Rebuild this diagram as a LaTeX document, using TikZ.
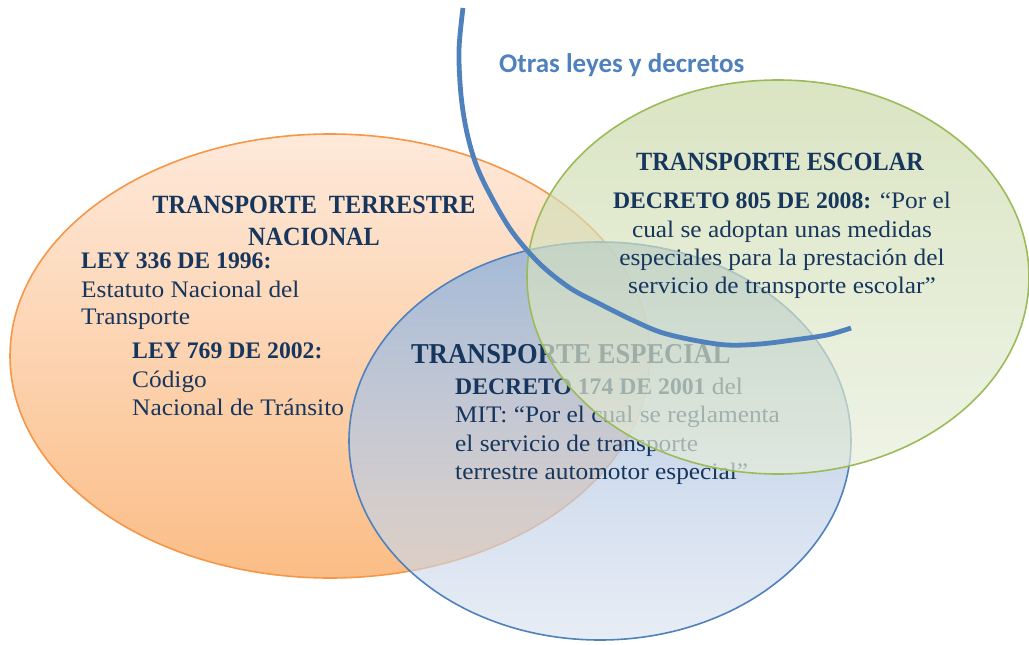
\documentclass[tikz,border=0pt]{standalone}
\usepackage{fontspec}
\usetikzlibrary{fadings}
\setmainfont{Liberation Serif}[UprightFeatures={FakeStretch=1.07}]
\newfontfamily\headfont{Liberation Serif}[FakeStretch=0.92]
\newfontfamily\labelfont{Carlito}
\definecolor{navy}{HTML}{17365D}
\definecolor{oline}{HTML}{F79646}
\definecolor{otop}{HTML}{FEE9DA}
\definecolor{obot}{HTML}{FBBD86}
\definecolor{bline}{HTML}{4F81BD}
\definecolor{btop}{HTML}{98B4D9}
\definecolor{bbot}{HTML}{D6E0EE}
\definecolor{gline}{HTML}{9BBB59}
\definecolor{gtop}{HTML}{C9D8A6}
\definecolor{gbot}{HTML}{E7EEDB}
\definecolor{arcblue}{HTML}{4F81BD}
\tikzfading[name=bluefade, top color=transparent!12, bottom color=transparent!42]
\begin{document}
\begin{tikzpicture}[x=1pt,y=-1pt,
  txt/.style={anchor=base west, inner sep=0pt, text=navy, font=\fontsize{23.7}{28}\selectfont},
  ctxt/.style={anchor=base, inner sep=0pt, text=navy, font=\fontsize{23.7}{28}\selectfont},
  head/.style={anchor=base, inner sep=0pt, text=navy, font=\headfont\fontsize{26.3}{30}\selectfont\bfseries},
  arcline/.style={draw=arcblue, line width=4.8pt}]
\useasboundingbox (0,0) rectangle (1029,645);
% orange ellipse
\shade[top color=otop, bottom color=obot] (330,356) ellipse [x radius=320pt, y radius=222pt];
\draw[draw=oline, line width=1.6pt] (330,356) ellipse [x radius=320pt, y radius=222pt];
\node[head] (tt1) at (314,213) {TRANSPORTE\ \ TERRESTRE};
\node[head] (tt2) at (314,245) {NACIONAL};
\node[txt] (l1) at (81,268) {\textbf{LEY 336 DE 1996:}};
\node[txt] (l2) at (81,297) {Estatuto Nacional del};
\node[txt] (l3) at (81,324) {Transporte};
\node[txt] (l4) at (132,358) {\textbf{LEY 769 DE 2002:}};
\node[txt] (l5) at (132,387) {Código};
\node[txt] (l6) at (132,415) {Nacional de Tránsito};
% blue ellipse
\shade[top color=btop, bottom color=bbot, path fading=bluefade] (600,441) ellipse [x radius=251pt, y radius=199pt];
\draw[draw=bline, line width=1.6pt] (600,441) ellipse [x radius=251pt, y radius=199pt];
\node[head, anchor=base west, font=\headfont\fontsize{28.8}{30}\selectfont\bfseries] (te) at (411,363) {TRANSPORTE ESPECIAL};
\node[txt] (e1) at (455,394) {\textbf{DECRETO 174 DE 2001} del};
\node[txt] (e2) at (455,422) {MIT: “Por el cual se reglamenta};
\node[txt] (e3) at (455,451) {el servicio de transporte};
\node[txt] (e4) at (455,479) {terrestre automotor especial”};
% green ellipse
\shade[top color=gtop, bottom color=gbot, fill opacity=0.68] (778,277) ellipse [x radius=251pt, y radius=197pt];
\draw[draw=gline, line width=1.6pt] (778,277) ellipse [x radius=251pt, y radius=197pt];
\node[head] (ts) at (780,170) {TRANSPORTE ESCOLAR};
\node[ctxt] (s1) at (782,208) {\textbf{DECRETO 805 DE 2008:} “Por el};
\node[ctxt] (s2) at (782,237) {cual se adoptan unas medidas};
\node[ctxt] (s3) at (782,265) {especiales para la prestación del};
\node[ctxt] (s4) at (782,293) {servicio de transporte escolar”};
% arc
\draw[arcline] plot[smooth, tension=0.55] coordinates {(463,8) (459,50) (461,95) (467,133) (477,167) (493,200) (513,233) (540,264) (570,288) (600,304) (630,319) (660,332) (693,340) (727,345) (760,344) (793,340) (827,335) (851,328)};
\node[anchor=base west, inner sep=0pt, text=arcblue, font=\labelfont\fontsize{27}{30}\selectfont\bfseries] (ol) at (499,72) {Otras leyes y decretos};
\end{tikzpicture}
\end{document}
